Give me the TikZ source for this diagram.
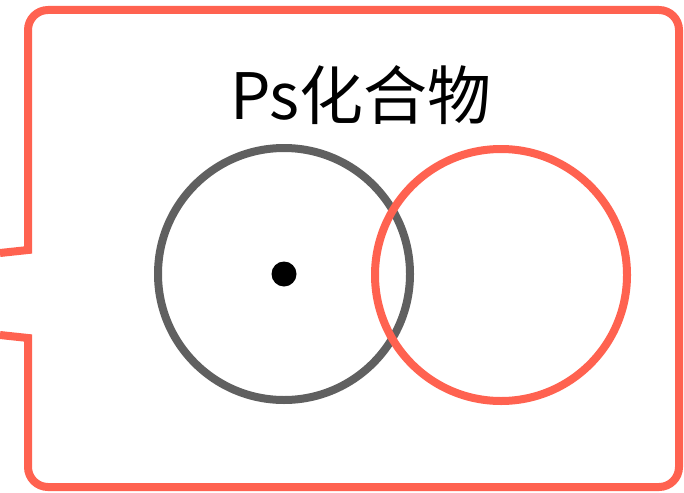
\documentclass[tikz,border=0pt]{standalone}
\usepackage{fontspec}
\newfontfamily\cjk{Noto Sans CJK SC}
\definecolor{tomatored}{RGB}{255,98,80}
\definecolor{ringgray}{RGB}{96,96,96}
\begin{document}
\begin{tikzpicture}[x=1pt,y=-1pt,
  frame/.style={draw=tomatored,line width=8pt,line join=miter},
  ring/.style={circle,minimum size=252pt,inner sep=0pt,line width=8pt},
  nucleus/.style={circle,fill=black,minimum size=25pt,inner sep=0pt},
  title/.style={font=\cjk\fontsize{64}{72}\selectfont,anchor=base,inner sep=0pt}]
\useasboundingbox (0,0) rectangle (684,492);
\draw[frame] (0,253) -- (28,250) [rounded corners=20pt] -- (28,10) -- (679,10) -- (679,487) -- (28,487) [sharp corners] -- (28,338) -- (0,335);
\node[ring,draw=ringgray] (gray) at (284,274) {};
\node[ring,draw=tomatored] (red) at (501,275) {};
\node[nucleus] (dot) at (284,274) {};
\node[title] (t) at (361,119) {Ps化合物};
\end{tikzpicture}
\end{document}
